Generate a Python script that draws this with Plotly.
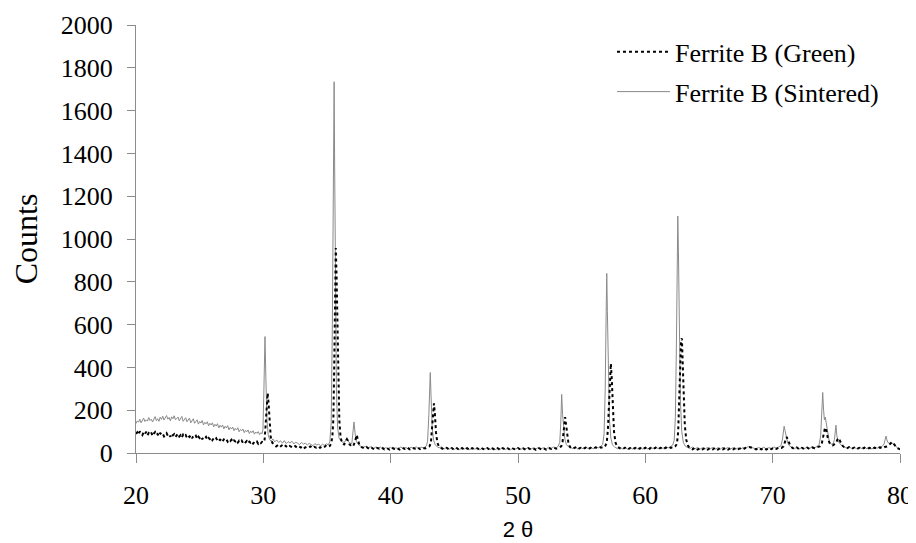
import plotly.graph_objects as go

# (2-theta, counts) pairs
sintered_xy = [
    (20.0,138),(20.1,150),(20.2,144),(20.3,158),(20.4,141),(20.5,152),(20.6,163),(20.7,147),(20.8,155),(20.9,149),
    (21.0,166),(21.1,152),(21.2,158),(21.3,145),(21.4,162),(21.5,170),(21.6,151),(21.7,160),(21.8,148),(21.9,167),
    (22.0,157),(22.1,172),(22.2,154),(22.3,163),(22.4,175),(22.5,158),(22.6,166),(22.7,150),(22.8,169),(22.9,160),
    (23.0,174),(23.1,155),(23.2,163),(23.3,168),(23.4,150),(23.5,161),(23.6,171),(23.7,148),(23.8,158),(23.9,165),
    (24.0,146),(24.1,157),(24.2,163),(24.3,141),(24.4,152),(24.5,160),(24.6,139),(24.7,149),(24.8,155),(24.9,135),
    (25.0,147),(25.1,140),(25.2,152),(25.3,131),(25.4,143),(25.5,136),(25.6,146),(25.7,127),(25.8,139),(25.9,131),
    (26.0,141),(26.1,122),(26.2,134),(26.3,126),(26.4,137),(26.5,117),(26.6,129),(26.7,121),(26.8,131),(26.9,113),
    (27.0,125),(27.1,117),(27.2,128),(27.3,108),(27.4,120),(27.5,112),(27.6,121),(27.7,104),(27.8,115),(27.9,108),
    (28.0,118),(28.1,99),(28.2,110),(28.3,104),(28.4,112),(28.5,95),(28.6,106),(28.7,99),(28.8,108),(28.9,91),
    (29.0,102),(29.1,95),(29.2,104),(29.3,88),(29.4,98),(29.5,92),(29.6,100),(29.7,86),(29.8,95),(29.9,90),
    (29.97,110),(30.04,280),(30.13,544),(30.2,350),(30.28,160),(30.38,85),(30.5,62),
    (30.62,55),(30.75,66),(30.9,52),(31.05,61),(31.2,49),(31.35,57),(31.5,46),(31.65,58),(31.8,44),(31.95,53),
    (32.1,47),(32.25,55),(32.4,42),(32.55,51),(32.7,45),(32.85,39),(33.0,50),(33.15,41),(33.3,47),(33.45,37),
    (33.6,45),(33.75,40),(33.9,34),(34.05,44),(34.2,37),(34.35,42),(34.5,33),(34.65,41),(34.8,36),(34.95,43),
    (35.1,38),(35.22,52),
    (35.33,140),(35.42,600),(35.49,1250),(35.53,1680),(35.56,1735),(35.6,1350),(35.66,750),(35.74,300),
    (35.83,120),(35.95,70),(36.1,55),(36.25,50),(36.4,52),(36.5,62),(36.57,72),(36.66,56),(36.8,46),
    (36.95,44),(37.04,85),(37.12,145),(37.2,95),(37.3,55),(37.45,40),
    (37.6,33),(37.8,25),(38.0,31),(38.2,22),(38.4,29),(38.6,19),(38.8,27),(39.0,22),(39.2,28),(39.4,18),
    (39.6,25),(39.8,21),(40.0,27),(40.2,17),(40.4,24),(40.6,21),(40.8,28),(41.0,20),(41.2,26),(41.4,18),
    (41.6,27),(41.8,22),(42.0,29),(42.2,20),(42.4,27),(42.6,24),(42.8,33),
    (42.9,55),(43.0,180),(43.07,330),(43.11,376),(43.17,270),(43.26,120),(43.37,60),(43.5,38),(43.65,30),
    (43.8,24),(44.0,29),(44.2,19),(44.4,26),(44.6,18),(44.8,25),(45.0,17),(45.2,24),(45.4,16),(45.6,23),
    (45.8,19),(46.0,25),(46.2,16),(46.4,23),(46.6,18),(46.8,24),(47.0,15),(47.2,23),(47.4,18),(47.6,25),
    (47.8,16),(48.0,22),(48.2,15),(48.4,23),(48.6,18),(48.8,24),(49.0,16),(49.2,23),(49.4,15),(49.6,22),
    (49.8,18),(50.0,25),(50.2,16),(50.4,23),(50.6,19),(50.8,25),(51.0,17),(51.2,24),(51.4,19),(51.6,26),
    (51.8,19),(52.0,25),(52.2,18),(52.4,27),(52.6,21),(52.8,28),(53.0,24),(53.15,31),
    (53.28,50),(53.36,140),(53.43,274),(53.5,180),(53.58,110),(53.68,65),(53.8,40),(53.95,30),
    (54.1,26),(54.3,21),(54.5,28),(54.7,19),(54.9,26),(55.1,20),(55.3,28),(55.5,21),(55.7,27),(55.9,20),
    (56.1,28),(56.3,24),(56.5,31),(56.65,40),
    (56.76,90),(56.85,300),(56.92,640),(56.97,839),(57.02,660),(57.09,360),(57.18,160),(57.29,70),(57.42,38),
    (57.6,27),(57.8,21),(58.0,28),(58.2,19),(58.4,26),(58.6,18),(58.8,25),(59.0,19),(59.2,27),(59.4,20),
    (59.6,26),(59.8,18),(60.0,25),(60.2,19),(60.4,27),(60.6,21),(60.8,28),(61.0,20),(61.2,27),(61.4,21),
    (61.6,29),(61.8,24),(62.0,31),(62.15,37),(62.27,60),
    (62.36,170),(62.44,500),(62.5,880),(62.55,1107),(62.6,940),(62.66,560),(62.75,250),(62.86,100),
    (62.99,48),(63.15,31),
    (63.3,26),(63.5,21),(63.7,28),(63.9,19),(64.1,26),(64.3,18),(64.5,25),(64.7,19),(64.9,27),(65.1,20),
    (65.3,26),(65.5,18),(65.7,25),(65.9,19),(66.1,27),(66.3,20),(66.5,26),(66.7,19),(66.9,25),(67.1,18),
    (67.3,24),(67.5,19),(67.7,26),(67.9,24),(68.1,31),(68.3,28),(68.5,24),(68.7,19),(68.9,26),(69.1,20),
    (69.3,27),(69.5,19),(69.7,25),(69.9,21),(70.1,28),(70.3,22),(70.5,29),(70.65,34),
    (70.77,65),(70.85,115),(70.9,125),(70.97,105),(71.06,75),(71.18,48),(71.32,33),
    (71.5,25),(71.7,20),(71.9,27),(72.1,19),(72.3,26),(72.5,20),(72.7,28),(72.9,22),(73.1,27),(73.3,24),
    (73.5,31),(73.65,40),
    (73.77,80),(73.86,180),(73.93,283),(74.0,200),(74.06,155),(74.13,168),(74.22,135),(74.32,85),(74.45,52),
    (74.6,41),(74.75,44),(74.85,62),(74.92,110),(74.97,130),(75.03,85),(75.12,57),(75.25,46),(75.4,36),
    (75.6,28),(75.8,23),(76.0,29),(76.2,21),(76.4,27),(76.6,20),(76.8,26),(77.0,21),(77.2,27),(77.4,20),
    (77.6,25),(77.8,19),(78.0,26),(78.2,22),(78.4,28),(78.6,31),(78.75,42),
    (78.84,66),(78.9,79),(78.97,62),(79.05,49),(79.15,45),(79.3,51),(79.45,43),(79.6,35),(79.75,27),
    (79.9,19),(80.0,14),
]

green_xy = [
    (20.0,90),(20.1,97),(20.2,86),(20.3,101),(20.4,92),(20.5,84),(20.6,96),(20.7,88),(20.8,99),(20.9,83),
    (21.0,93),(21.1,87),(21.2,95),(21.3,80),(21.4,91),(21.5,98),(21.6,84),(21.7,89),(21.8,79),(21.9,94),
    (22.0,85),(22.1,90),(22.2,78),(22.3,88),(22.4,93),(22.5,80),(22.6,86),(22.7,76),(22.8,91),(22.9,83),
    (23.0,88),(23.1,75),(23.2,85),(23.3,90),(23.4,77),(23.5,83),(23.6,72),(23.7,86),(23.8,79),(23.9,84),
    (24.0,71),(24.1,80),(24.2,75),(24.3,83),(24.4,69),(24.5,78),(24.6,73),(24.7,80),(24.8,66),(24.9,76),
    (25.0,70),(25.1,77),(25.2,64),(25.3,73),(25.4,68),(25.5,75),(25.6,62),(25.7,70),(25.8,65),(25.9,72),
    (26.0,60),(26.1,68),(26.2,62),(26.3,69),(26.4,57),(26.5,65),(26.6,60),(26.7,66),(26.8,55),(26.9,63),
    (27.0,58),(27.1,64),(27.2,53),(27.3,61),(27.4,56),(27.5,62),(27.6,51),(27.7,59),(27.8,54),(27.9,60),
    (28.0,49),(28.1,57),(28.2,52),(28.3,58),(28.4,47),(28.5,55),(28.6,50),(28.7,56),(28.8,46),(28.9,53),
    (29.0,48),(29.1,54),(29.2,44),(29.3,51),(29.4,47),(29.5,53),(29.6,43),(29.7,50),(29.8,46),(29.9,52),
    (30.0,49),
    (30.1,62),(30.19,140),(30.27,240),(30.34,280),(30.41,235),(30.49,140),(30.58,75),(30.7,48),
    (30.85,40),(31.0,31),(31.15,37),(31.3,28),(31.45,35),(31.6,27),(31.75,34),(31.9,26),(32.05,33),(32.2,27),
    (32.35,24),(32.5,32),(32.65,25),(32.8,31),(32.95,26),(33.1,33),(33.25,24),(33.4,30),(33.55,26),(33.7,31),
    (33.85,23),(34.0,29),(34.15,25),(34.3,31),(34.45,24),(34.6,30),(34.75,26),(34.9,33),(35.05,27),(35.2,32),
    (35.32,42),
    (35.42,75),(35.5,160),(35.57,420),(35.63,800),(35.69,958),(35.75,830),(35.82,560),(35.89,310),(35.97,150),
    (36.07,72),(36.2,45),(36.35,40),(36.47,55),(36.56,64),(36.64,58),(36.75,42),(36.9,32),(37.05,31),
    (37.17,48),(37.27,72),(37.34,84),(37.42,62),(37.55,37),(37.7,28),
    (37.9,22),(38.1,28),(38.3,19),(38.5,25),(38.7,17),(38.9,24),(39.1,20),(39.3,26),(39.5,17),(39.7,23),
    (39.9,16),(40.1,25),(40.3,19),(40.5,23),(40.7,16),(40.9,25),(41.1,19),(41.3,26),(41.5,17),(41.7,24),
    (41.9,20),(42.1,27),(42.3,18),(42.5,24),(42.7,21),(42.9,27),(43.05,31),
    (43.16,48),(43.25,120),(43.33,200),(43.4,232),(43.47,185),(43.56,95),(43.67,48),(43.8,29),
    (44.0,22),(44.2,17),(44.4,24),(44.6,16),(44.8,23),(45.0,15),(45.2,22),(45.4,14),(45.6,23),(45.8,15),
    (46.0,22),(46.2,14),(46.4,23),(46.6,17),(46.8,22),(47.0,14),(47.2,21),(47.4,16),(47.6,23),(47.8,14),
    (48.0,21),(48.2,15),(48.4,22),(48.6,14),(48.8,23),(49.0,16),(49.2,22),(49.4,14),(49.6,21),(49.8,16),
    (50.0,23),(50.2,16),(50.4,22),(50.6,15),(50.8,23),(51.0,17),(51.2,22),(51.4,15),(51.6,24),(51.8,18),
    (52.0,23),(52.2,16),(52.4,24),(52.6,19),(52.8,25),(53.0,20),(53.2,26),(53.4,31),
    (53.5,52),(53.58,115),(53.65,158),(53.7,168),(53.77,135),(53.86,78),(53.97,42),(54.1,27),
    (54.3,19),(54.5,26),(54.7,17),(54.9,24),(55.1,18),(55.3,25),(55.5,17),(55.7,24),(55.9,20),(56.1,26),
    (56.3,21),(56.5,27),(56.7,24),(56.85,33),(56.97,48),
    (57.06,110),(57.14,250),(57.22,380),(57.29,418),(57.36,350),(57.44,210),(57.54,100),(57.66,48),(57.8,29),
    (58.0,22),(58.2,17),(58.4,25),(58.6,16),(58.8,23),(59.0,17),(59.2,24),(59.4,16),(59.6,23),(59.8,17),
    (60.0,25),(60.2,16),(60.4,23),(60.6,17),(60.8,25),(61.0,18),(61.2,24),(61.4,17),(61.6,25),(61.8,20),
    (62.0,26),(62.2,24),(62.35,31),(62.48,42),
    (62.58,100),(62.66,260),(62.74,450),(62.81,530),(62.87,535),(62.93,440),(63.0,280),(63.1,130),
    (63.22,60),(63.36,33),
    (63.5,22),(63.7,17),(63.9,25),(64.1,16),(64.3,23),(64.5,17),(64.7,24),(64.9,16),(65.1,23),(65.3,17),
    (65.5,25),(65.7,16),(65.9,23),(66.1,17),(66.3,24),(66.5,16),(66.7,23),(66.9,17),(67.1,24),(67.3,18),
    (67.5,23),(67.7,18),(67.9,25),(68.1,29),(68.3,26),(68.5,21),(68.7,17),(68.9,24),(69.1,17),(69.3,23),
    (69.5,16),(69.7,24),(69.9,18),(70.1,25),(70.3,19),(70.5,26),(70.7,24),(70.85,31),
    (70.96,52),(71.04,70),(71.1,75),(71.18,63),(71.28,46),(71.4,33),(71.55,24),
    (71.7,19),(71.9,26),(72.1,17),(72.3,24),(72.5,18),(72.7,25),(72.9,19),(73.1,26),(73.3,22),(73.5,28),
    (73.7,31),(73.85,42),
    (73.95,72),(74.04,102),(74.11,118),(74.18,116),(74.26,92),(74.36,62),(74.48,46),(74.6,38),(74.72,36),
    (74.85,41),(74.98,47),(75.08,62),(75.17,70),(75.25,61),(75.36,46),(75.5,33),(75.65,26),
    (75.8,21),(76.0,27),(76.2,19),(76.4,25),(76.6,18),(76.8,24),(77.0,18),(77.2,25),(77.4,19),(77.6,24),
    (77.8,18),(78.0,25),(78.2,20),(78.4,26),(78.6,22),(78.8,28),(79.0,31),(79.15,37),
    (79.27,46),(79.36,51),(79.44,49),(79.55,39),(79.7,28),(79.85,21),(80.0,17),
]

x_ticks = [20, 30, 40, 50, 60, 70, 80]
y_ticks = [0, 200, 400, 600, 800, 1000, 1200, 1400, 1600, 1800, 2000]

sx = [p[0] for p in sintered_xy]
sy = [p[1] for p in sintered_xy]
gx = [p[0] for p in green_xy]
gy = [p[1] for p in green_xy]

SERIF = "Liberation Serif"
SANS = "Liberation Sans"
AXIS_GREY = "#8c8c8c"

fig = go.Figure()
fig.add_trace(go.Scatter(
    x=sx, y=sy, mode="lines", name="Ferrite B (Sintered)",
    line=dict(color="#8a8a8a", width=1), legendrank=2, legendgroup="s",
))
fig.add_trace(go.Scatter(
    x=gx, y=gy, mode="lines", name="Ferrite B (Green)",
    line=dict(color="black", width=2, dash="dot"), legendrank=1, legendgroup="g",
))

# the page body adds an 8px offset, so margins are shifted to compensate
fig.update_layout(
    width=916, height=543,
    margin=dict(l=128, r=24, t=17, b=98),
    paper_bgcolor="white", plot_bgcolor="white",
    font=dict(family=SERIF, size=26, color="black"),
    showlegend=True,
    legend=dict(
        x=0.623, y=0.992, xanchor="left", yanchor="top",
        font=dict(family=SERIF, size=26, color="black"),
        bgcolor="rgba(0,0,0,0)", itemwidth=53,
        traceorder="grouped", tracegroupgap=3,
    ),
    xaxis=dict(
        range=[20, 80], tickvals=x_ticks, ticktext=[str(v) for v in x_ticks],
        showgrid=False, zeroline=False, showline=True, linecolor=AXIS_GREY, linewidth=1,
        ticks="outside", ticklen=9, tickcolor=AXIS_GREY, tickwidth=1,
        ticklabelstandoff=10, automargin=False,
        tickfont=dict(family=SERIF, size=26, color="black"),
        title=dict(text="2 θ", font=dict(family=SANS, size=22, color="black"), standoff=12),
    ),
    yaxis=dict(
        range=[0, 2000], tickvals=y_ticks, ticktext=[str(v) for v in y_ticks],
        showgrid=False, zeroline=False, showline=True, linecolor=AXIS_GREY, linewidth=1,
        ticks="outside", ticklen=8, tickcolor=AXIS_GREY, tickwidth=1,
        ticklabelstandoff=9, automargin=False,
        tickfont=dict(family=SERIF, size=26, color="black"),
        title=dict(text="Counts", font=dict(family=SERIF, size=32, color="black"), standoff=22),
    ),
)

fig.write_html("out.html")
